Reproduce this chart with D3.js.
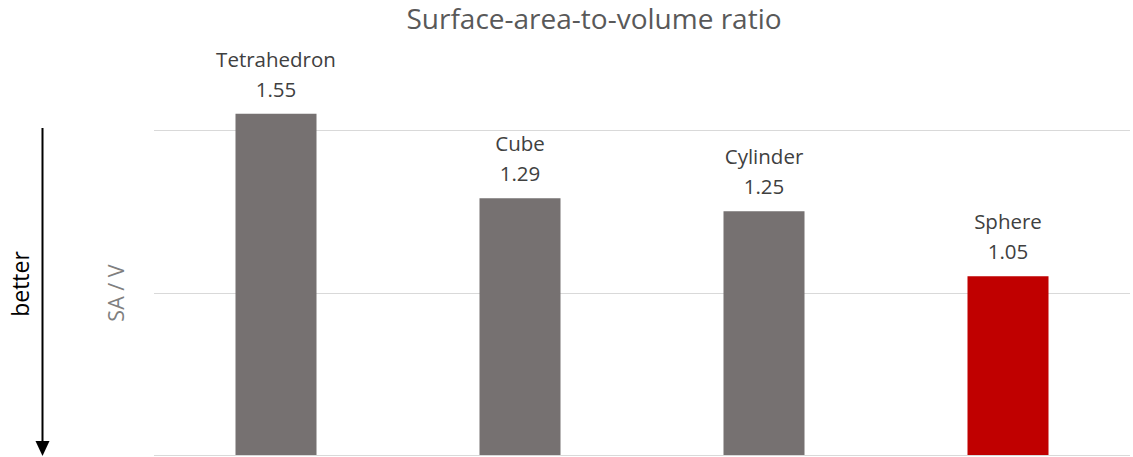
<!DOCTYPE html>
<html>
<head>
<meta charset="utf-8">
<script src="https://cdn.jsdelivr.net/npm/d3@7"></script>
<style>
  html, body { margin: 0; padding: 0; background: #fff; }
  svg { display: block; font-family: "Open Sans", "Noto Sans", sans-serif; }
</style>
</head>
<body>
<svg id="chart" width="1133" height="457"></svg>
<script>
// Shapes and their surface-area-to-volume ratios
const shapes = ["Tetrahedron", "Cube", "Cylinder", "Sphere"];
const ratios = [1.55, 1.29, 1.25, 1.05];
const barColors = ["#767171", "#767171", "#767171", "#c00000"];
const gridTicks = [0.5, 1.0, 1.5];

const svg = d3.select("#chart");
const plotLeft = 154, plotRight = 1130, plotBottom = 455, plotTop = 130;

const x = d3.scaleBand()
  .domain(shapes)
  .range([plotLeft, plotRight])
  .paddingInner(0.668)
  .paddingOuter(0.334);

const y = d3.scaleLinear()
  .domain([0.5, 1.5])
  .range([plotBottom, plotTop]);

// Horizontal gridlines
svg.append("g")
  .selectAll("line")
  .data(gridTicks)
  .join("line")
  .attr("x1", plotLeft)
  .attr("x2", plotRight)
  .attr("y1", d => Math.round(y(d)) + 0.5)
  .attr("y2", d => Math.round(y(d)) + 0.5)
  .attr("stroke", "#d9d9d9")
  .attr("stroke-width", 1);

// Bars
svg.append("g")
  .selectAll("rect")
  .data(shapes)
  .join("rect")
  .attr("x", d => x(d))
  .attr("width", x.bandwidth())
  .attr("y", (d, i) => y(ratios[i]))
  .attr("height", (d, i) => y(0.5) - y(ratios[i]))
  .attr("fill", (d, i) => barColors[i]);

// Bar labels: name and value
const labels = svg.append("g")
  .selectAll("g")
  .data(shapes)
  .join("g")
  .attr("transform", (d, i) => `translate(${x(d) + x.bandwidth() / 2},${y(ratios[i])})`);

labels.append("text")
  .attr("text-anchor", "middle")
  .attr("y", -47)
  .attr("font-size", 20.5)
  .attr("fill", "#404040")
  .text(d => d);

labels.append("text")
  .attr("text-anchor", "middle")
  .attr("y", -17)
  .attr("font-size", 20.5)
  .attr("fill", "#404040")
  .text((d, i) => ratios[i].toFixed(2));

// Title
svg.append("text")
  .attr("x", 594)
  .attr("y", 29)
  .attr("text-anchor", "middle")
  .attr("font-size", 28)
  .attr("fill", "#595959")
  .text("Surface-area-to-volume ratio");

// Axis title
svg.append("text")
  .attr("transform", "translate(124,293) rotate(-90)")
  .attr("text-anchor", "middle")
  .attr("font-size", 21.5)
  .attr("fill", "#7f7f7f")
  .text("SA / V");

// "better" arrow pointing down
svg.append("line")
  .attr("x1", 42.5).attr("x2", 42.5)
  .attr("y1", 128).attr("y2", 444)
  .attr("stroke", "#000")
  .attr("stroke-width", 2);

svg.append("path")
  .attr("d", "M35.5,441 L49.5,441 L42.5,456 Z")
  .attr("fill", "#000");

svg.append("text")
  .attr("transform", "translate(29,284) rotate(-90)")
  .attr("text-anchor", "middle")
  .attr("font-size", 23)
  .attr("fill", "#000")
  .text("better");
</script>
</body>
</html>
